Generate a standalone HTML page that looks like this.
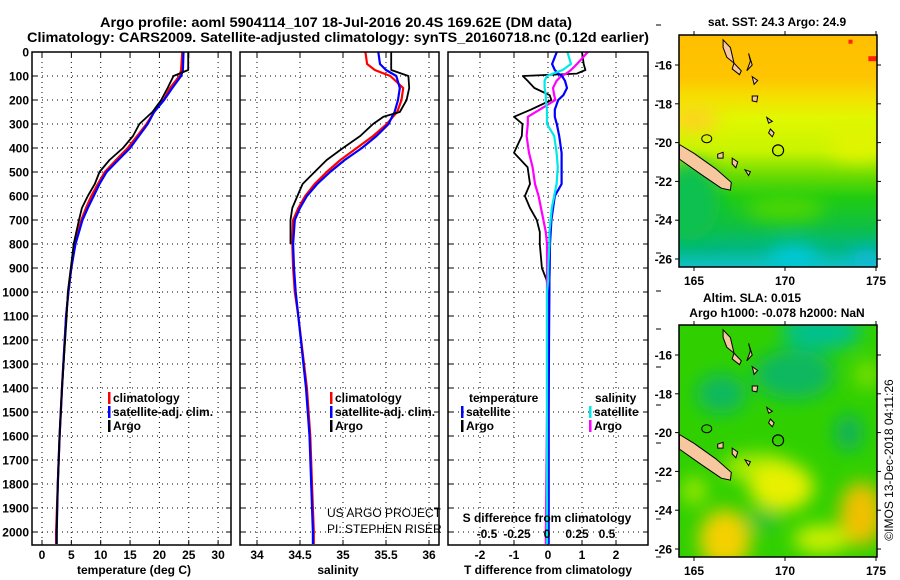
<!DOCTYPE html>
<html><head><meta charset="utf-8"><style>
html,body{margin:0;padding:0;background:#fff}
svg{display:block}
text{font-family:"Liberation Sans",Arial,sans-serif}
.b{font-weight:bold;font-size:12px}
</style></head><body>
<svg id="s" width="900" height="580" viewBox="0 0 900 580" xmlns="http://www.w3.org/2000/svg">
<defs>
<filter id="bl" x="-50%" y="-50%" width="200%" height="200%"><feGaussianBlur stdDeviation="9"/></filter>
<clipPath id="c1"><rect x="679" y="35" width="198" height="232"/></clipPath>
<clipPath id="c2"><rect x="679" y="325" width="198" height="232"/></clipPath>
<linearGradient id="sst" x1="0" y1="0" x2="0" y2="1">
<stop offset="0" stop-color="#ffbf00"/><stop offset="0.18" stop-color="#ffc400"/><stop offset="0.27" stop-color="#f4e000"/>
<stop offset="0.36" stop-color="#e0f800"/><stop offset="0.5" stop-color="#c8f400"/><stop offset="0.6" stop-color="#70dc00"/>
<stop offset="0.7" stop-color="#20cc10"/><stop offset="0.82" stop-color="#10c040"/><stop offset="0.92" stop-color="#00b880"/><stop offset="1" stop-color="#10c0c8"/>
</linearGradient>
</defs>
<g id="root"></g>
</svg>
<script>
// ---- data (depth in dbar) ----
const tDepth=[0,75,100,150,200,250,300,350,400,450,500,550,600,650,700,800,900,1000,1100,1400,1600,1800,2000,2050];
const tArgo=[24.9,24.9,22.4,21.4,20.3,18.8,16.6,15.5,13.8,11.5,9.8,9.0,7.8,6.8,6.3,5.4,4.9,4.4,4.2,3.4,3.0,2.7,2.5,2.5];
const tClim=[23.9,23.7,23.4,21.8,20.7,19.1,17.8,16.2,14.6,12.6,10.7,9.5,8.4,7.5,6.7,5.6,5.0,4.5,4.1,3.4,3.0,2.7,2.4,2.4];
const tSat=[24.1,24.0,23.7,22.2,20.8,19.1,18.0,16.5,15.0,13.0,11.0,9.8,8.8,7.8,6.9,5.7,5.0,4.5,4.1,3.4,3.0,2.7,2.5,2.5];
const sDepth=[0,50,75,100,150,200,250,270,300,350,400,450,500,550,600,650,700,800,900,1000,1100,1400,1600,1800,2000,2050];
const sArgo=[35.56,35.56,35.56,35.76,35.77,35.74,35.66,35.47,35.35,35.2,35.0,34.81,34.67,34.53,34.47,34.41,34.39,34.39,null,null,null,null,null,null,null,null];
const sClim=[35.26,35.28,35.37,35.55,35.7,35.68,35.63,35.58,35.51,35.35,35.16,34.97,34.81,34.67,34.56,34.48,34.42,34.41,34.42,34.44,34.48,34.58,34.62,34.64,34.66,34.66];
const sSat=[35.41,35.43,35.5,35.62,35.66,35.64,35.6,35.57,35.53,35.39,35.22,35.02,34.85,34.7,34.58,34.5,34.44,34.42,34.43,34.45,34.48,34.57,34.61,34.63,34.65,34.65];
const dDepth=[0,50,75,90,100,120,150,180,200,240,270,300,350,420,480,550,600,650,700,750,800,900,950,1000,1200,1500,2000,2050];
const dTArgo=[1.0,1.05,1.1,0.85,-0.74,-0.6,-0.4,0.05,0.1,-0.5,-1.0,-0.75,-0.77,-1.0,-0.6,-0.53,-0.68,-0.53,-0.33,-0.24,-0.24,-0.18,-0.04,0,0,0,0,0];
const dTSat=[0.26,0.12,0.2,0.3,0.41,0.5,0.56,0.45,0.3,0.2,0.2,0.26,0.33,0.4,0.4,0.4,0.2,0.15,0.1,0.08,0.06,0.05,0.04,0.04,0.03,0.02,0.02,0.02];
const dSArgo=[0.34,0.25,0.2,0.16,0.12,0.08,0.05,0.06,0.07,-0.06,-0.16,-0.16,-0.17,-0.15,-0.12,-0.1,-0.07,-0.05,-0.03,-0.01,0,0,0,0,0,0,-0.01,-0.01];
const dSSat=[0.17,0.2,0.13,0.05,0,-0.02,-0.02,-0.01,-0.01,0,0,0,0.06,0.08,0.09,0.08,0.06,0.04,0.03,0.02,0.02,0.01,0.01,0,0,0,0,0];
const depthTicks=[0,100,200,300,400,500,600,700,800,900,1000,1100,1200,1300,1400,1500,1600,1700,1800,1900,2000];
const tTicks=[0,5,10,15,20,25,30];
const sTicks=[34,34.5,35,35.5,36];
const dTTicks=[-2,-1,0,1,2];
const dSTicks=[-0.5,-0.25,0,0.25,0.5];
const dSTickLabels=["-0.5","-0.25","0","0.25","0.5"];
const lonTicks=[165,170,175];
const latTicks=[-16,-18,-20,-22,-24,-26];

const NS="http://www.w3.org/2000/svg";
const root=document.getElementById('root');
function el(tag,attrs,parent,txt){const e=document.createElementNS(NS,tag);for(const k in attrs)e.setAttribute(k,attrs[k]);if(txt!==undefined)e.textContent=txt;(parent||root).appendChild(e);return e;}
function grp(name){const g=el('g',{});return g;}

const yD=d=>52+d*0.24;
const xT=v=>42+v*5.87;
const xS=v=>257+(v-34)*86;
const xDT=v=>548+v*34;
const xDS=v=>547+v*120;
const panels=[{x:32,w:199,name:'temperature-panel'},{x:240,w:199,name:'salinity-panel'},{x:448,w:200,name:'difference-panel'}];

let t=el('text',{x:336,y:27,'text-anchor':'middle','font-size':'14','font-weight':'bold',textLength:472,lengthAdjust:'spacingAndGlyphs'},root,'Argo profile: aoml 5904114_107 18-Jul-2016 20.4S 169.62E (DM data)');


t=el('text',{x:338,y:42,'text-anchor':'middle','font-size':'14','font-weight':'bold',textLength:622,lengthAdjust:'spacingAndGlyphs'},root,'Climatology: CARS2009. Satellite-adjusted climatology: synTS_20160718.nc (0.12d earlier)');



const yl=grp('depth-axis-labels');
depthTicks.forEach(d=>{const e=el('text',{x:29,y:yD(d)+4.5,'text-anchor':'end',class:'b'},yl,String(d));});

function panelFrame(p,xt,xf){
  const g=grp(p.name);
  depthTicks.forEach(d=>{el('line',{x1:p.x,x2:p.x+p.w,y1:yD(d),y2:yD(d),stroke:'#000','stroke-width':1,'stroke-dasharray':'1,4'},g);
    el('line',{x1:p.x,x2:p.x+5,y1:yD(d),y2:yD(d),stroke:'#000'},g);el('line',{x1:p.x+p.w-5,x2:p.x+p.w,y1:yD(d),y2:yD(d),stroke:'#000'},g);});
  xt.forEach(v=>{const x=xf(v);el('line',{x1:x,x2:x,y1:52,y2:545,stroke:'#000','stroke-dasharray':'1,4'},g);
    el('line',{x1:x,x2:x,y1:52,y2:57,stroke:'#000'},g);el('line',{x1:x,x2:x,y1:540,y2:545,stroke:'#000'},g);});
  return g;
}
function line(g,dep,vals,xf,color,w,name){
  let pts=[];dep.forEach((d,i)=>{if(vals[i]!==null)pts.push(xf(vals[i]).toFixed(1)+','+yD(Math.min(d,2054)).toFixed(1));});
  const e=el('polyline',{points:pts.join(' '),fill:'none',stroke:color,'stroke-width':w,'stroke-linejoin':'round'},g);
  
}
function frame(p){el('rect',{x:p.x,y:52,width:p.w,height:493,fill:'none',stroke:'#000','stroke-width':1.5});}

let g1=panelFrame(panels[0],tTicks,xT);
line(g1,tDepth,tClim,xT,'#ff0000',2.2,'temp-climatology-line');
line(g1,tDepth,tSat,xT,'#0000ff',2.2,'temp-satellite-line');
line(g1,tDepth,tArgo,xT,'#000',1.8,'temp-argo-line');
frame(panels[0]);
tTicks.forEach(v=>{const e=el('text',{x:xT(v),y:559,'text-anchor':'middle',class:'b'},root,String(v));});
t=el('text',{x:134,y:574,'text-anchor':'middle',class:'b'},root,'temperature (deg C)');

let g2=panelFrame(panels[1],sTicks,xS);
line(g2,sDepth,sClim,xS,'#ff0000',2.2,'sal-climatology-line');
line(g2,sDepth,sSat,xS,'#0000ff',2.2,'sal-satellite-line');
line(g2,sDepth,sArgo,xS,'#000',1.8,'sal-argo-line');
frame(panels[1]);
sTicks.forEach(v=>{const e=el('text',{x:xS(v),y:559,'text-anchor':'middle',class:'b'},root,String(v));});
t=el('text',{x:338,y:574,'text-anchor':'middle',class:'b'},root,'salinity');

let g3=panelFrame(panels[2],dTTicks,xDT);
line(g3,dDepth,dTArgo,xDT,'#000',1.8,'tdiff-argo-line');
line(g3,dDepth,dSArgo,xDS,'#ff00ff',2.2,'sdiff-argo-line');
line(g3,dDepth,dTSat,xDT,'#0000ff',2.2,'tdiff-satellite-line');
line(g3,dDepth,dSSat,xDS,'#00e8e8',2.2,'sdiff-satellite-line');
frame(panels[2]);
dTTicks.forEach(v=>{const e=el('text',{x:xDT(v),y:559,'text-anchor':'middle',class:'b'},root,String(v));});
dSTicks.forEach((v,i)=>{const e=el('text',{x:xDS(v),y:538,'text-anchor':'middle',class:'b'},root,dSTickLabels[i]);});
t=el('text',{x:547,y:522,'text-anchor':'middle',class:'b'},root,'S difference from climatology');
t=el('text',{x:548,y:574,'text-anchor':'middle',class:'b'},root,'T difference from climatology');

function leg(x,y,color,label,name){const g=grp(name);el('rect',{x:x,y:y-10,width:2.5,height:12,fill:color},g);el('text',{x:x+5,y:y,class:'b'},g,label);}
leg(108,402,'#ff0000','climatology','legend-climatology');
leg(108,416,'#0000ff','satellite-adj. clim.','legend-satellite');
leg(108,430,'#000','Argo','legend-argo');
leg(330,402,'#ff0000','climatology','legend-sal-climatology');
leg(330,416,'#0000ff','satellite-adj. clim.','legend-sal-satellite');
leg(330,430,'#000','Argo','legend-sal-argo');
t=el('text',{x:469,y:402,class:'b'},root,'temperature');
t=el('text',{x:595,y:402,class:'b'},root,'salinity');
leg(461,416,'#0000ff','satellite','legend-tdiff-satellite');
leg(461,430,'#000','Argo','legend-tdiff-argo');
leg(589,416,'#00e8e8','satellite','legend-sdiff-satellite');
leg(589,430,'#ff00ff','Argo','legend-sdiff-argo');
t=el('text',{x:327,y:517,'font-size':'12'},root,'US ARGO PROJECT');
t=el('text',{x:327,y:533,'font-size':'12'},root,'PI: STEPHEN RISER');

const islands=[
 [[164.2,-20.1],[165.0,-20.55],[166.2,-21.35],[167.05,-22.05],[167.0,-22.45],[166.5,-22.35],[165.4,-21.65],[164.2,-20.85]],
 [[166.6,-14.7],[167.0,-15.1],[167.2,-15.9],[166.8,-15.6],[166.6,-15.1]],
 [[167.2,-15.9],[167.6,-16.3],[167.5,-16.5],[167.1,-16.2]],
 [[168.0,-15.4],[168.2,-16.0],[167.9,-16.3],[168.1,-15.8]],
 [[168.2,-16.6],[168.5,-16.8],[168.3,-17.0]],
 [[168.2,-17.6],[168.5,-17.6],[168.45,-17.9],[168.2,-17.85]],
 [[169.0,-18.7],[169.3,-18.9],[169.1,-19.0]],
 [[169.2,-19.3],[169.4,-19.5],[169.3,-19.7],[169.1,-19.5]],
 [[166.3,-20.6],[166.6,-20.5],[166.6,-20.8],[166.3,-20.8]],
 [[167.1,-20.8],[167.4,-21.0],[167.3,-21.3],[167.1,-21.1]],
 [[167.8,-21.4],[168.1,-21.5],[168.0,-21.7]]
];
function drawMap(y0,name,kind){
  const g=grp(name);
  const px=lon=>694+(lon-165)*18.2;
  const py=lat=>(y0+30)+(-16-lat)*19.4;
  const c=el('g',{'clip-path':kind==='sst'?'url(#c1)':'url(#c2)'},g);
  if(kind==='sst'){
    el('rect',{x:679,y:y0,width:198,height:232,fill:'url(#sst)'},c);
    const f=el('g',{filter:'url(#bl)'},c);
    el('ellipse',{cx:px(165),cy:py(-18.8),rx:25,ry:12,fill:'#ffd020'},f);
    el('ellipse',{cx:px(174),cy:py(-20),rx:30,ry:18,fill:'#e0f400'},f);
    el('ellipse',{cx:px(164.8),cy:py(-23),rx:30,ry:40,fill:'#10c050'},f);
    el('ellipse',{cx:px(170),cy:py(-23.4),rx:40,ry:12,fill:'#50d800'},f);
    el('ellipse',{cx:px(170.5),cy:py(-26),rx:25,ry:14,fill:'#00c8d8'},f);
    el('ellipse',{cx:px(174.5),cy:py(-26),rx:15,ry:10,fill:'#10b8e0'},f);
    el('rect',{x:px(173.6)-2,y:py(-14.8)-2,width:4,height:4,fill:'#ff2000'},c);
    el('rect',{x:px(174.8)-4,y:py(-15.7)-3,width:8,height:5,fill:'#ff2000'},c);
  } else {
    el('rect',{x:679,y:y0,width:198,height:232,fill:'#30d000'},c);
    const f=el('g',{filter:'url(#bl)'},c);
    el('ellipse',{cx:px(172),cy:py(-14.8),rx:40,ry:18,fill:'#00c090'},f);
    el('ellipse',{cx:px(170.5),cy:py(-17),rx:40,ry:25,fill:'#10b860'},f);
    el('ellipse',{cx:px(166.5),cy:py(-18),rx:25,ry:20,fill:'#10b860'},f);
    el('ellipse',{cx:px(173.5),cy:py(-20),rx:14,ry:18,fill:'#10b060'},f);
    el('ellipse',{cx:px(174.5),cy:py(-17),rx:12,ry:14,fill:'#80e000'},f);
    el('ellipse',{cx:px(168.5),cy:py(-21.8),rx:35,ry:14,fill:'#b0ec00'},f);
    el('ellipse',{cx:px(169.8),cy:py(-22.8),rx:32,ry:24,fill:'#e8f000'},f);
    el('ellipse',{cx:px(166.7),cy:py(-25.5),rx:26,ry:30,fill:'#f4d000'},f);
    el('ellipse',{cx:px(174.2),cy:py(-24.2),rx:22,ry:32,fill:'#f0c000'},f);
    el('ellipse',{cx:px(172),cy:py(-25.5),rx:28,ry:14,fill:'#d0f000'},f);
    el('ellipse',{cx:px(165),cy:py(-23),rx:12,ry:14,fill:'#a0e800'},f);
    el('ellipse',{cx:px(168.8),cy:py(-24.5),rx:16,ry:9,fill:'#20c040'},f);
  }
  islands.forEach(poly=>{el('polygon',{points:poly.map(p=>px(p[0]).toFixed(1)+','+py(p[1]).toFixed(1)).join(' '),fill:'#f7c8a0',stroke:'#000','stroke-width':1},c);});
  el('ellipse',{cx:px(165.7),cy:py(-19.8),rx:5,ry:4,fill:'none',stroke:'#000'},c);
  const a=el('circle',{cx:px(169.62),cy:py(-20.4),r:5.5,fill:'none',stroke:'#000','stroke-width':1.2},c);
  
  el('rect',{x:679,y:y0,width:198,height:232,fill:'none',stroke:'#000','stroke-width':1.5},g);
  lonTicks.forEach(l=>{el('line',{x1:px(l),x2:px(l),y1:y0-4,y2:y0,stroke:'#000'},g);el('line',{x1:px(l),x2:px(l),y1:y0+232,y2:y0+236,stroke:'#000'},g);
    const e=el('text',{x:px(l),y:y0+250,'text-anchor':'middle',class:'b'},g,String(l));});
  latTicks.forEach(l=>{el('line',{x1:675,x2:679,y1:py(l),y2:py(l),stroke:'#000'},g);el('line',{x1:877,x2:881,y1:py(l),y2:py(l),stroke:'#000'},g);
    const e=el('text',{x:672,y:py(l)+4.5,'text-anchor':'end',class:'b'},g,String(l));});
}
drawMap(35,'sst-map','sst');
drawMap(325,'sla-map','sla');
t=el('text',{x:777,y:26,'text-anchor':'middle',class:'b'},root,'sat. SST: 24.3 Argo: 24.9');
t=el('text',{x:752,y:302,'text-anchor':'middle',class:'b'},root,'Altim. SLA: 0.015');
t=el('text',{x:777,y:317,'text-anchor':'middle',class:'b'},root,'Argo h1000: -0.078 h2000: NaN');
t=el('text',{x:0,y:0,'text-anchor':'middle','font-size':'12',transform:'translate(893,460) rotate(-90)'},root,'©IMOS 13-Dec-2018 04:11:26');
const tk=grp('map-left-ticks');
for(let y=25;y<580;y+=38){el('line',{x1:656,x2:661,y1:y,y2:y,stroke:'#000'},tk);}
</script>
</body></html>
